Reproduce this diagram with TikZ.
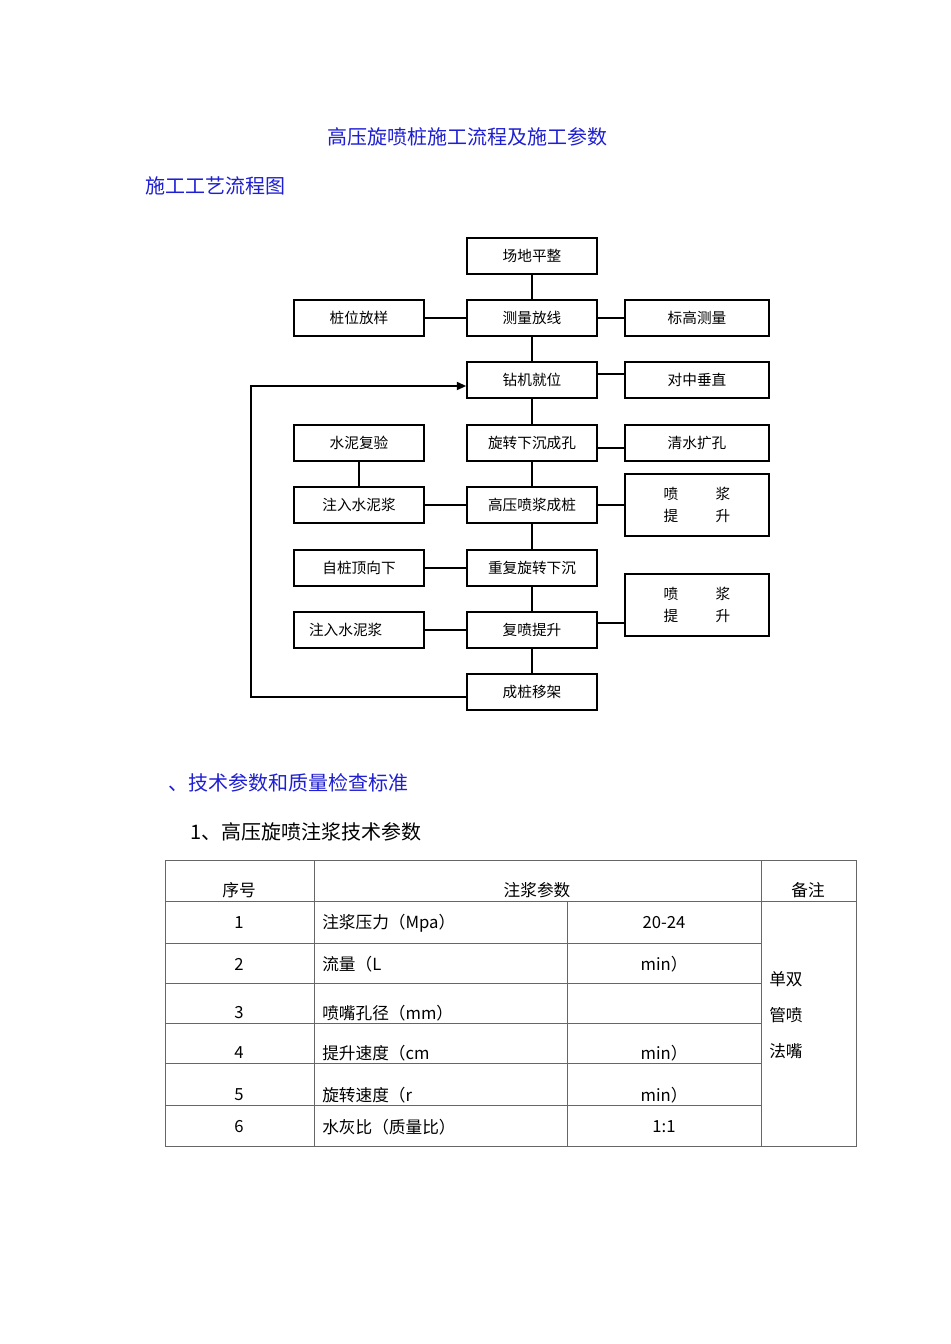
\documentclass[tikz,border=0pt]{standalone}
\usepackage{fontspec}
\setmainfont{Noto Sans CJK SC}
\usetikzlibrary{arrows.meta}
\definecolor{ttl}{RGB}{30,30,210}
\begin{document}
\begin{tikzpicture}[x=0.75pt,y=-0.75pt,
  box/.style={draw,line width=1.2pt,minimum height=27pt,inner sep=0pt,font=\fontsize{11}{13}\selectfont},
  cbox/.style={box,minimum width=97.5pt},
  lbox/.style={box,minimum width=97.5pt},
  rbox/.style={box,minimum width=108pt},
  ln/.style={line width=0.8pt},
  tl/.style={draw=black!60,line width=0.6pt},
  tt/.style={font=\fontsize{12.5}{15}\selectfont,inner sep=0pt}]
\useasboundingbox (0,0) rectangle (950,1344);
% headings
\node[text=ttl,font=\fontsize{15}{18}\selectfont] (t1) at (467,137) {高压旋喷桩施工流程及施工参数};
\node[text=ttl,font=\fontsize{15}{18}\selectfont,anchor=west,inner sep=0pt] (t2) at (145,186) {施工工艺流程图};
% center
\node[cbox] (c1) at (532,256) {场地平整};
\node[cbox] (c2) at (532,318) {测量放线};
\node[cbox] (c3) at (532,380) {钻机就位};
\node[cbox] (c4) at (532,443) {旋转下沉成孔};
\node[cbox] (c5) at (532,505) {高压喷浆成桩};
\node[cbox] (c6) at (532,568) {重复旋转下沉};
\node[cbox] (c7) at (532,630) {复喷提升};
\node[cbox] (c8) at (532,692) {成桩移架};
% left
\node[lbox] (l2) at (359,318) {桩位放样};
\node[lbox] (l4) at (359,443) {水泥复验};
\node[lbox] (l5) at (359,505) {注入水泥浆};
\node[lbox] (l6) at (359,568) {自桩顶向下};
\node[lbox] (l7) at (359,630) {\hspace*{-20pt}注入水泥浆};
% right
\node[rbox] (r2) at (697,318) {标高测量};
\node[rbox] (r3) at (697,380) {对中垂直};
\node[rbox] (r4) at (697,443) {清水扩孔};
\node[rbox,minimum height=46.5pt,align=center] (r5) at (697,505) {喷\hspace{28pt}浆\\[4pt]提\hspace{28pt}升};
\node[rbox,minimum height=46.5pt,align=center] (r7) at (697,605) {喷\hspace{28pt}浆\\[4pt]提\hspace{28pt}升};
% connectors
\foreach \a/\b in {c1/c2,c2/c3,c3/c4,c4/c5,c5/c6,c6/c7,c7/c8} \draw[ln] (\a) -- (\b);
\draw[ln] (l4) -- (l5);
\foreach \a/\b in {l2/c2,l5/c5,l6/c6,l7/c7,c2/r2} \draw[ln] (\a) -- (\b);
\draw[ln] (c3.east |- 0,374) -- (r3.west |- 0,374);
\draw[ln] (c4.east |- 0,448) -- (r4.west |- 0,448);
\draw[ln] (c5) -- (r5);
\draw[ln] (c7.east |- 0,623) -- (r7.west |- 0,623);
\coordinate (lb) at (251,697);
\coordinate (lt) at (251,386);
\draw[line width=1.3pt,-{Triangle[length=7pt,width=6pt]}] (c8.west |- lb) -- (lb) -- (lt) -- (c3.west |- lt);
% section headings
\node[text=ttl,font=\fontsize{15}{18}\selectfont,anchor=west,inner sep=0pt] (t3) at (168,783) {、技术参数和质量检查标准};
\node[font=\fontsize{15}{18}\selectfont,anchor=west,inner sep=0pt] (t4) at (190,832) {1、高压旋喷注浆技术参数};
% table
\draw[tl] (165,860) rectangle (856,1146);
\foreach \y in {901,943,983,1023,1063,1105} \draw[tl] (165,\y) -- (761,\y);
\draw[tl] (165,901) -- (856,901);
\draw[tl] (314,860) -- (314,1146);
\draw[tl] (761,860) -- (761,1146);
\draw[tl] (567,901) -- (567,1146);
\node[tt] (h1) at (239,890) {序号};
\node[tt] (h2) at (537,890) {注浆参数};
\node[tt] (h3) at (808,890) {备注};
\foreach \n/\y/\p/\v in {1/923/注浆压力（Mpa）/20-24, 2/964/流量（L/min）/50-90, 3/1013/喷嘴孔径（mm）/, 4/1053/提升速度（cm/min）/, 5/1095/旋转速度（r/min）/18-30, 6/1127/水灰比（质量比）/1:1}{
  \node[tt] (n\n) at (239,\y) {\n};
  \node[tt,anchor=west] (p\n) at (322,\y) {\p};
  \node[tt] (v\n) at (664,\y) {\v};
}
\node[tt,anchor=west,align=left] (bz) at (769,1015) {单双\\[12pt]管喷\\[12pt]法嘴};
\end{tikzpicture}
\end{document}
